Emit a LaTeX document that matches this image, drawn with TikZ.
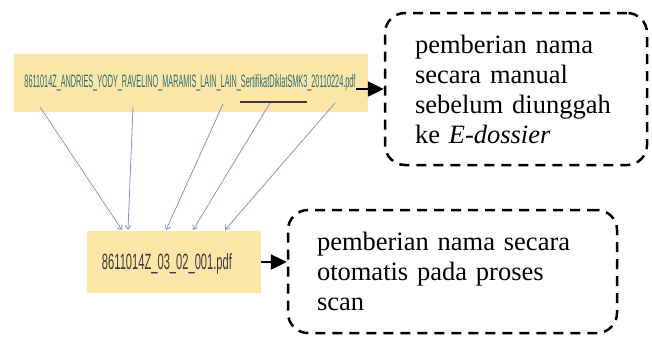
\documentclass[tikz,border=0pt]{standalone}
\usepackage{fontspec}
\setmainfont{Liberation Serif}
\newfontfamily\fnfont{Liberation Sans}
\usetikzlibrary{arrows.meta}
\definecolor{fileyellow}{HTML}{FBE6A8}
\definecolor{fileteal}{HTML}{2E6E73}
\definecolor{filegray}{HTML}{3A3A3A}
\definecolor{linkblue}{HTML}{8197C0}
\begin{document}
\begin{tikzpicture}[x=1pt,y=-1pt,
  filebox/.style={fill=fileyellow, draw=none, inner sep=0pt},
  fname/.style={inner sep=0pt},
  note/.style={draw=black, line width=2.5pt, dash pattern=on 10pt off 7pt, rounded corners=20pt, inner sep=0pt, align=left, font=\fontsize{26.5}{30}\selectfont},
  bigarrow/.style={line width=2.5pt, -{Triangle[length=16pt,width=15pt]}},
  link/.style={draw=linkblue, line width=0.8pt, -{Straight Barb[length=4pt,width=6pt]}}
]
\useasboundingbox (0,0) rectangle (652,338);
% top file name
\node[filebox, minimum width=354pt, minimum height=58pt] (top) at (191,83) {};
\node[fname, text=fileteal] (toptext) at (190,83) {\resizebox{331pt}{13pt}{\fnfont 8611014Z\_ANDRIES\_YODY\_RAVELINO\_MARAMIS\_LAIN\_LAIN\_SertifikatDiklatSMK3\_20110224.pdf}};
\coordinate (ul1) at (240,102);
\coordinate (ul2) at (307,102);
\draw[filegray, line width=1.5pt] (ul1) -- (ul2);
% bottom file name
\node[filebox, minimum width=174pt, minimum height=62pt] (bot) at (174,262) {};
\node[fname, text=filegray] (bottext) at (167,264) {\resizebox{130pt}{16pt}{\fnfont 8611014Z\_03\_02\_001.pdf}};
% notes
\node[note, minimum width=262pt, minimum height=152pt, text width=202pt] (m1) at (516,89) {pemberian nama\\secara manual\\sebelum diunggah\\ke \textit{E-dossier}};
\node[note, minimum width=329pt, minimum height=123pt, text width=271pt] (m2) at (452.5,271.5) {pemberian nama secara\\otomatis pada proses\\scan};
% arrows
\draw[bigarrow] (toptext.east |- m1.west) -- (m1.west);
\draw[bigarrow] (bot.east) -- (bot.east -| m2.west);
% links
\coordinate (s1) at (40,107);
\coordinate (s2) at (133,107);
\coordinate (s3) at (223,104);
\coordinate (s4) at (270,103);
\coordinate (s5) at (335,103);
\coordinate (t1) at (122,230);
\coordinate (t2) at (128,230);
\coordinate (t3) at (166,230);
\coordinate (t4) at (193,230);
\coordinate (t5) at (225,230);
\draw[link] (s1) -- (t1);
\draw[link] (s2) -- (t2);
\draw[link] (s3) -- (t3);
\draw[link] (s4) -- (t4);
\draw[link] (s5) -- (t5);
\end{tikzpicture}
\end{document}
